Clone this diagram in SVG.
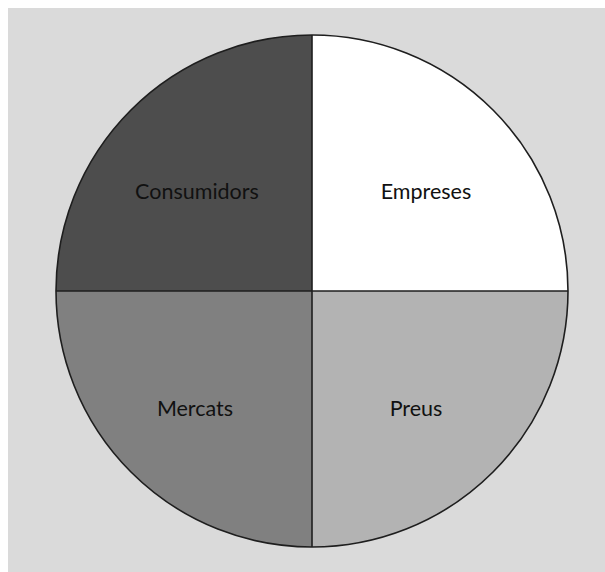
<svg xmlns="http://www.w3.org/2000/svg" width="605" height="572" viewBox="0 0 605 572">
<style>
.q{stroke:none}
.edge{fill:none;stroke:#1e1e1e;stroke-width:1.6}
.lbl{font-family:Lato,"Open Sans","Liberation Sans",sans-serif;font-size:21.5px;fill:#111;text-anchor:middle}
</style>
<rect x="0" y="0" width="605" height="572" fill="#ffffff"/>
<rect x="8" y="8" width="597" height="564" fill="#dadada"/>
<g id="consumidors">
<path class="q" d="M312,291 L56,291 A256,256 0 0 1 312,35 Z" fill="#4d4d4d"/>
<text class="lbl" x="197" y="199">Consumidors</text>
</g>
<g id="empreses">
<path class="q" d="M312,291 L312,35 A256,256 0 0 1 568,291 Z" fill="#ffffff"/>
<text class="lbl" x="426" y="199">Empreses</text>
</g>
<g id="mercats">
<path class="q" d="M312,291 L56,291 A256,256 0 0 0 312,547 Z" fill="#808080"/>
<text class="lbl" x="195" y="416">Mercats</text>
</g>
<g id="preus">
<path class="q" d="M312,291 L312,547 A256,256 0 0 0 568,291 Z" fill="#b3b3b3"/>
<text class="lbl" x="416" y="416">Preus</text>
</g>
<g id="connectors">
<circle class="edge" cx="312" cy="291" r="256"/>
<line class="edge" x1="312" y1="35" x2="312" y2="547"/>
<line class="edge" x1="56" y1="291" x2="568" y2="291"/>
</g>
</svg>
